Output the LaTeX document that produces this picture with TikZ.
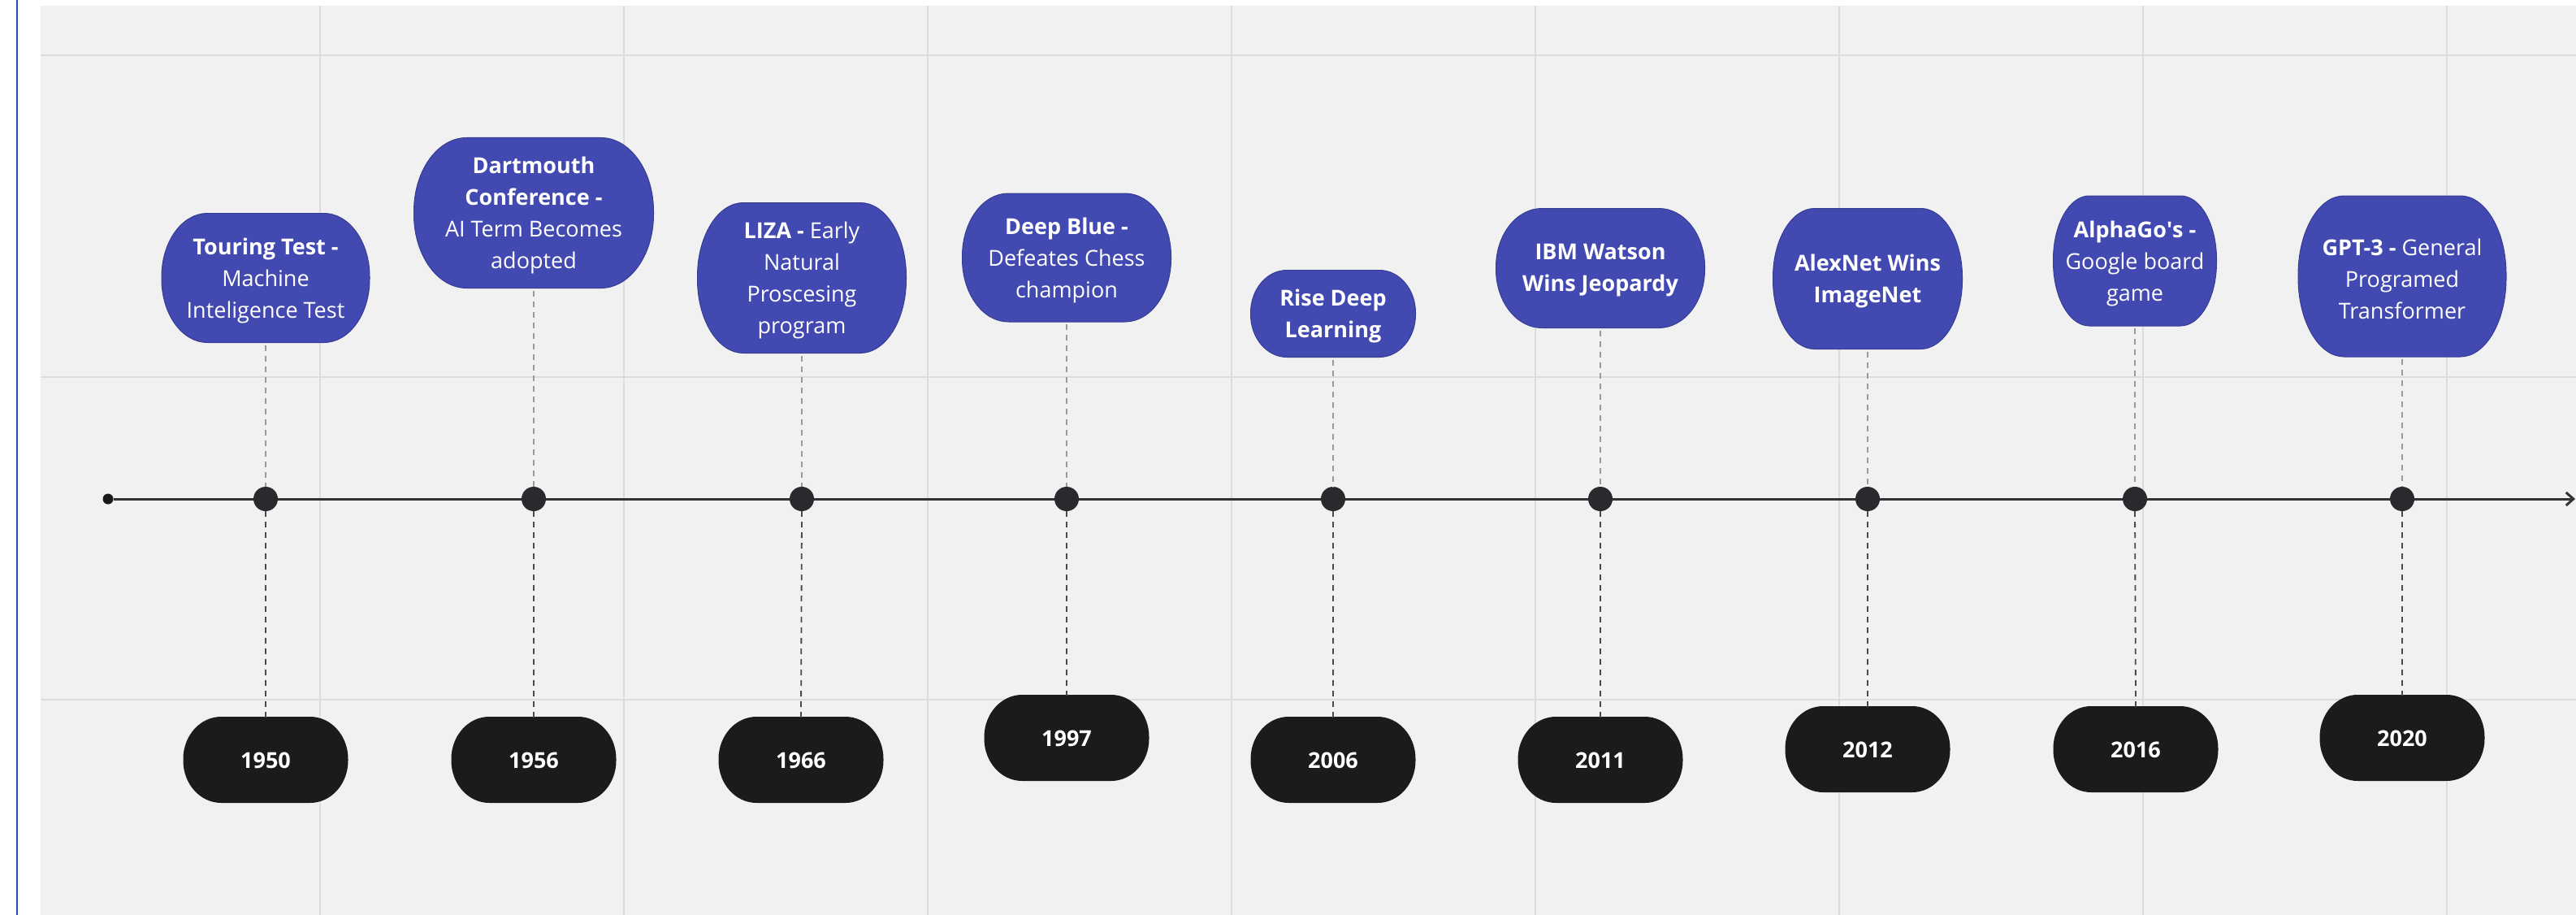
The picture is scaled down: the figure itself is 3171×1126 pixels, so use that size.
\documentclass[tikz,border=0pt]{standalone}
\usepackage{fontspec}
\setmainfont{Open Sans}
\usetikzlibrary{arrows.meta}
\definecolor{bgc}{HTML}{F1F1F1}
\definecolor{gridc}{HTML}{DCDCDC}
\definecolor{evblue}{HTML}{424AB1}
\definecolor{evedge}{HTML}{363C94}
\definecolor{yrblack}{HTML}{1B1B1B}
\definecolor{axisc}{HTML}{333333}
\definecolor{dotc}{HTML}{2A2A2E}
\definecolor{frameblue}{HTML}{2B50A8}
\definecolor{updashc}{HTML}{9A9A9A}
\definecolor{lowdashc}{HTML}{4A4A4A}

\newcommand\tlblob[6]{% style, cx, cy (px down), w, h, rx fraction
  \pgfmathsetmacro\tlL{#2-#4/2}\pgfmathsetmacro\tlR{#2+#4/2}%
  \pgfmathsetmacro\tlT{-(#3)+#5/2}\pgfmathsetmacro\tlB{-(#3)-#5/2}%
  \pgfmathsetmacro\tlA{#6*#4}\pgfmathsetmacro\tlBr{0.49*#5}%
  \path[#1] (\tlL+\tlA,\tlT) -- (\tlR-\tlA,\tlT)
    arc[start angle=90,end angle=0,x radius=\tlA,y radius=\tlBr] -- (\tlR,\tlB+\tlBr)
    arc[start angle=0,end angle=-90,x radius=\tlA,y radius=\tlBr] -- (\tlL+\tlA,\tlB)
    arc[start angle=-90,end angle=-180,x radius=\tlA,y radius=\tlBr] -- (\tlL,\tlT-\tlBr)
    arc[start angle=180,end angle=90,x radius=\tlA,y radius=\tlBr] -- cycle;
}
\newcommand\tlevent[6]{% name, cx, cy, w, h, text
  \tlblob{fill=evblue,draw=evedge,line width=1pt}{#2}{#3}{#4}{#5}{0.22}
  \node[evtext,minimum width=#4pt,minimum height=#5pt] (#1) at (#2,-#3) {#6};
}
\newcommand\tlyear[4]{% name, cx, cy, text
  \tlblob{fill=yrblack}{#2}{#3}{203}{106}{0.23}
  \node[yrtext,minimum width=203pt,minimum height=106pt] (#1) at (#2,-#3) {#4};
}

\begin{document}
\begin{tikzpicture}[x=1pt,y=1pt,
  evtext/.style={rectangle,inner sep=0pt,text=white,align=center,font=\fontsize{27}{39}\selectfont,yshift=-3pt},
  yrtext/.style={rectangle,inner sep=0pt,text=white,font=\fontsize{27}{33}\selectfont\bfseries,yshift=-1pt},
  gridline/.style={draw=gridc,line width=2pt},
  axisline/.style={draw=axisc,line width=3pt},
  tldot/.style={circle,fill=dotc,inner sep=0pt,minimum size=30pt},
  startdot/.style={circle,fill=black!90,inner sep=0pt,minimum size=13pt},
  updash/.style={draw=updashc,line width=1.8pt,dash pattern=on 7pt off 6pt},
  lowdash/.style={draw=lowdashc,line width=1.8pt,dash pattern=on 7pt off 6pt}]
\useasboundingbox (0,0) rectangle (3171,-1126);
% background
\fill[white] (0,0) rectangle (3171,-1126);
\fill[bgc] (50,-7) rectangle (3171,-1126);
\foreach \gx in {394,768,1142,1516,1890,2264,2638,3012}
  \draw[gridline] (\gx,-7) -- (\gx,-1126);
\foreach \gy in {68,464,861}
  \draw[gridline] (50,-\gy) -- (3171,-\gy);
\draw[frameblue,line width=2.5pt] (21,0) -- (21,-1126);

% events
\tlevent{e1}{327}{342}{256}{159}{\textbf{Touring Test -}\\Machine\\Inteligence Test}
\tlevent{e2}{657}{262}{295}{185}{\textbf{Dartmouth}\\\textbf{Conference -}\\AI Term Becomes\\adopted}
\tlevent{e3}{987}{342}{257}{185}{\textbf{LIZA -} Early\\Natural\\Proscesing\\program}
\tlevent{e4}{1313}{317}{257}{158}{\textbf{Deep Blue -}\\Defeates Chess\\champion}
\tlevent{e5}{1641}{386}{203}{107}{\textbf{Rise Deep}\\\textbf{Learning}}
\tlevent{e6}{1970}{330}{257}{147}{\textbf{IBM Watson}\\\textbf{Wins Jeopardy}}
\tlevent{e7}{2299}{343}{233}{173}{\textbf{AlexNet Wins}\\\textbf{ImageNet}}
\tlevent{e8}{2628}{321}{201}{160}{\textbf{AlphaGo\textquotesingle s -}\\Google board\\game}
\tlevent{e9}{2957}{340}{256}{198}{\textbf{GPT-3 -} General\\Programed\\Transformer}

% years
\tlyear{y1}{327}{935}{1950}
\tlyear{y2}{657}{935}{1956}
\tlyear{y3}{986}{935}{1966}
\tlyear{y4}{1313}{908}{1997}
\tlyear{y5}{1641}{935}{2006}
\tlyear{y6}{1970}{935}{2011}
\tlyear{y7}{2299}{922}{2012}
\tlyear{y8}{2629}{922}{2016}
\tlyear{y9}{2957}{908}{2020}

% axis
\node[startdot] (start) at (133,-614) {};
\coordinate (axend) at (3170,-614);
\draw[axisline,-{Straight Barb[length=9pt,width=16pt]}] (start) -- (axend);

% dots and connectors
\foreach \i/\dx in {1/327,2/657,3/987,4/1313,5/1641,6/1970,7/2299,8/2628,9/2957}{
  \node[tldot] (d\i) at (\dx,-614) {};
  \draw[updash] (e\i.south) -- (d\i.north);
  \draw[lowdash] (d\i.south) -- (y\i.north);
}
\end{tikzpicture}
\end{document}
